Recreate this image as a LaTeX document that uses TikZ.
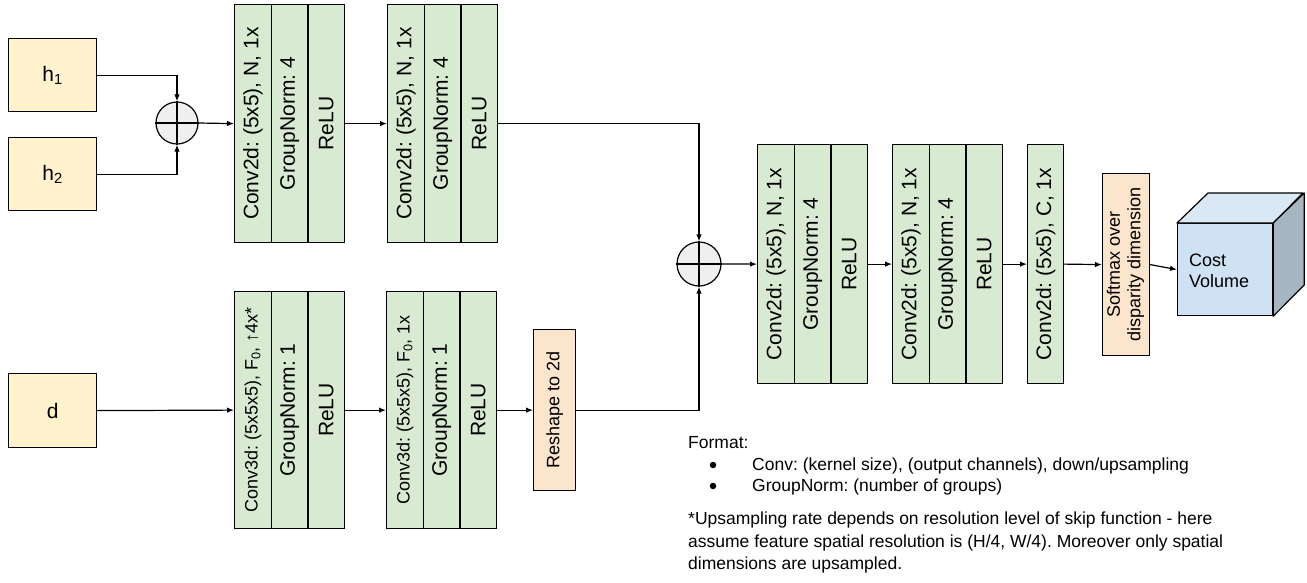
\documentclass[tikz,border=0pt]{standalone}
\usepackage{fontspec}
\setmainfont{Liberation Sans}
\usetikzlibrary{arrows.meta}
\definecolor{gfill}{HTML}{D9EAD3}
\definecolor{yfill}{HTML}{FFF2CC}
\definecolor{ofill}{HTML}{FCE5CD}
\definecolor{bfill}{HTML}{CFE2F3}
\definecolor{btop}{HTML}{DAE8F5}
\definecolor{bside}{HTML}{A6B5C2}
\definecolor{cfill}{HTML}{EFEFEF}
\frenchspacing
\begin{document}
\begin{tikzpicture}[x=1pt,y=-1pt,
  box/.style={draw=black, line width=1.2pt, inner sep=0pt, anchor=north west},
  col/.style={box, fill=gfill, minimum width=36.67pt},
  inbox/.style={box, fill=yfill, minimum width=88pt, font=\fontsize{21}{24}\selectfont},
  big/.style={font=\fontsize{21}{24}\selectfont},
  small/.style={font=\fontsize{18}{20.5}\selectfont},
  sumc/.style={circle, draw=black, line width=1.2pt, fill=cfill, inner sep=0pt},
  arr/.style={line width=1.2pt, -{Latex[length=7pt,width=5.5pt]}},
  conn/.style={line width=1.2pt},
  legend/.style={anchor=base west, inner sep=0pt, font=\fontsize{17.5}{22.5}\selectfont},
  dot/.style={circle, fill=black, inner sep=0pt, minimum size=6.5pt}
]
\useasboundingbox (0,0) rectangle (1307,582);

% inputs
\node[inbox, minimum height=73pt] (h1) at (8,38) {h\textsubscript{1}};
\node[inbox, minimum height=73pt] (h2) at (8,137) {h\textsubscript{2}};
\node[inbox, minimum height=74pt] (d) at (8,373) {d};

% sum 1
\node[sumc, minimum size=42pt] (c1) at (177,123) {};
\draw[conn] (c1.north) -- (c1.south) (c1.west) -- (c1.east);

% top blocks
\node[col, minimum height=238pt, big] (b1a) at (234,4) {\rotatebox{90}{Conv2d: (5x5), N, 1x}};
\node[col, minimum height=238pt, big] (b1b) at (270.67,4) {\rotatebox{90}{GroupNorm: 4}};
\node[col, minimum height=238pt, big] (b1c) at (307.33,4) {\rotatebox{90}{ReLU}};
\node[col, minimum height=238pt, big] (b2a) at (387,4) {\rotatebox{90}{Conv2d: (5x5), N, 1x}};
\node[col, minimum height=238pt, big] (b2b) at (423.67,4) {\rotatebox{90}{GroupNorm: 4}};
\node[col, minimum height=238pt, big] (b2c) at (460.33,4) {\rotatebox{90}{ReLU}};

% bottom blocks
\node[col, minimum height=237pt, small] (b3a) at (234,291) {\rotatebox{90}{Conv3d: (5x5x5), F\textsubscript{0}, ↑4x*}};
\node[col, minimum height=237pt, big] (b3b) at (270.67,291) {\rotatebox{90}{GroupNorm: 1}};
\node[col, minimum height=237pt, big] (b3c) at (307.33,291) {\rotatebox{90}{ReLU}};
\node[col, minimum height=237pt, small] (b4a) at (386,291) {\rotatebox{90}{Conv3d: (5x5x5), F\textsubscript{0}, 1x}};
\node[col, minimum height=237pt, big] (b4b) at (422.67,291) {\rotatebox{90}{GroupNorm: 1}};
\node[col, minimum height=237pt, big] (b4c) at (459.33,291) {\rotatebox{90}{ReLU}};
\node[box, fill=ofill, minimum width=42pt, minimum height=161pt, small] (reshape) at (533,329) {\rotatebox{90}{Reshape to 2d}};

% sum 2
\node[sumc, minimum size=44pt] (c2) at (699,264) {};
\draw[conn] (c2.north) -- (c2.south) (c2.west) -- (c2.east);

% right blocks
\node[col, minimum height=239pt, big] (b5a) at (757,144) {\rotatebox{90}{Conv2d: (5x5), N, 1x}};
\node[col, minimum height=239pt, big] (b5b) at (793.67,144) {\rotatebox{90}{GroupNorm: 4}};
\node[col, minimum height=239pt, big] (b5c) at (830.33,144) {\rotatebox{90}{ReLU}};
\node[col, minimum height=239pt, big] (b6a) at (892,144) {\rotatebox{90}{Conv2d: (5x5), N, 1x}};
\node[col, minimum height=239pt, big] (b6b) at (928.67,144) {\rotatebox{90}{GroupNorm: 4}};
\node[col, minimum height=239pt, big] (b6c) at (965.33,144) {\rotatebox{90}{ReLU}};
\node[col, minimum width=36pt, minimum height=239pt, big] (b7) at (1027,144) {\rotatebox{90}{Conv2d: (5x5), C, 1x}};
\node[box, fill=ofill, minimum width=47pt, minimum height=182pt, small] (softmax) at (1102,173)
  {\rotatebox{90}{\begin{tabular}{@{}c@{}}Softmax over\\disparity dimension\end{tabular}}};

% cube
\node[box, fill=bfill, minimum width=95pt, minimum height=92pt] (cf) at (1177,223) {};
\draw[line width=1.2pt, fill=btop, line join=round] (cf.north west) -- ++(31,-30) -- ++(95,0) -- (cf.north east) -- cycle;
\draw[line width=1.2pt, fill=bside, line join=round] (cf.north east) -- ++(31,-30) -- ++(0,92) -- (cf.south east) -- cycle;
\node[anchor=west, align=left, inner sep=0pt, font=\fontsize{18}{21}\selectfont] (cvtext) at (1189,271) {Cost\\Volume};

% connectors
\draw[arr] (h1.east) -| (c1.north);
\draw[arr] (h2.east) -| (c1.south);
\draw[arr] (c1.east) -- (b1a.west);
\draw[arr] (b1c.east) -- (b2a.west);
\draw[arr] (b2c.east) -| (c2.north);
\draw[arr] (d.east) -- (b3a.west);
\draw[arr] (b3c.east) -- (b4a.west);
\draw[arr] (b4c.east) -- (reshape.west);
\draw[arr] (reshape.east) -| (c2.south);
\draw[arr] (c2.east) -- (b5a.west);
\draw[arr] (b5c.east) -- (b6a.west);
\draw[arr] (b6c.east) -- (b7.west);
\draw[arr] (b7.east) -- (softmax.west);
\draw[arr] (softmax.east) -- (cf.west);

% legend
\node[legend] (fmt) at (688,448) {Format:};
\node[dot] (bul1) at (713,465) {};
\node[legend] (l1) at (752,470) {Conv: (kernel size), (output channels), down/upsampling};
\node[dot] (bul2) at (713,486) {};
\node[legend] (l2) at (752,491) {GroupNorm: (number of groups)};
\node[legend] (p1) at (688,524) {*Upsampling rate depends on resolution level of skip function - here};
\node[legend] (p2) at (688,547) {assume feature spatial resolution is (H/4, W/4). Moreover only spatial};
\node[legend] (p3) at (688,569) {dimensions are upsampled.};
\end{tikzpicture}
\end{document}
